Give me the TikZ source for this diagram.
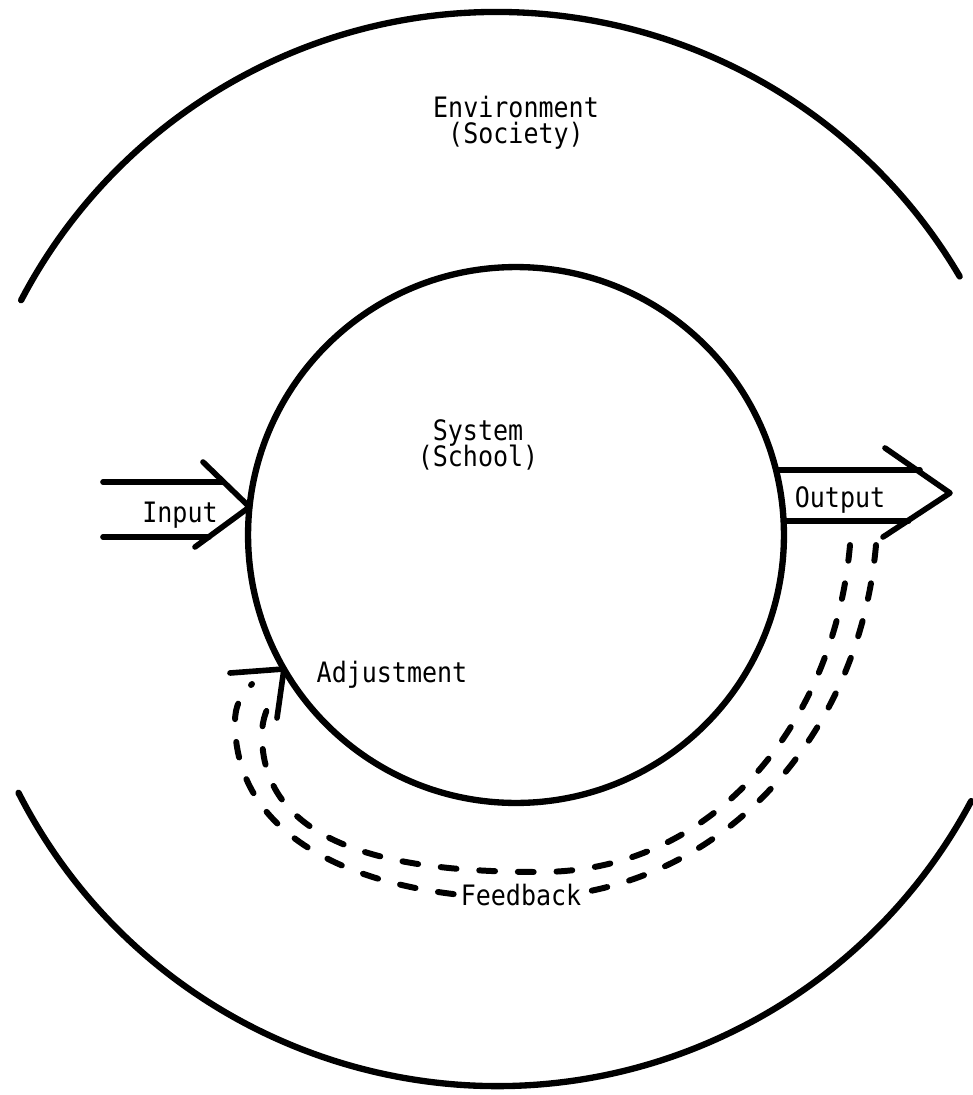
\documentclass[tikz,border=0pt]{standalone}
\usepackage{fontspec}
\setmonofont{DejaVu Sans Mono}[FakeStretch=0.89]
\usetikzlibrary{positioning}

\begin{document}
\begin{tikzpicture}[
    x=0.02cm, y=0.02cm,
    font=\ttfamily\fontsize{16}{19}\selectfont,
    ring/.style = {draw=black, line width=3.6pt},
    flow/.style = {draw=black, line width=3.2pt, line cap=round, line join=round},
    fback/.style = {draw=black, line width=3.4pt, line cap=round,
                    dash pattern=on 9pt off 13pt},
    lbl/.style = {anchor=base, inner sep=1pt},
]
\useasboundingbox (0,0) rectangle (973,-1095);

\coordinate (env) at (497,-549);
\node[ring, circle, minimum size=10.72cm, inner sep=0pt, outer sep=0pt] (school) at (516,-535) {};

\draw[ring, line cap=round] ([shift={(30.5:537)}]env) arc[start angle=30.5, end angle=152.4, radius=537];
\draw[ring, line cap=round] ([shift={(207:537)}]env) arc[start angle=207, end angle=332, radius=537];

\node[lbl] (envlbl) at (516,-117) {Environment};
\node[lbl] (soclbl) at (516,-143) {(Society)};
\node[lbl] (syslbl) at (478,-440) {System};
\node[lbl] (schlbl) at (478,-466) {(School)};
\node[lbl] (inlbl) at (180,-522) {Input};
\node[lbl] (outlbl) at (840,-507) {Output};
\node[lbl] (adjlbl) at (392,-682) {Adjustment};

% input
\coordinate (inA) at (103,-482);
\coordinate (inB) at (103,-537);
\coordinate (inU) at (203,-462);
\coordinate (inL) at (195,-547);
\draw[flow] (inA) -- ++(120,0);
\draw[flow] (inB) -- ++(106,0);
\draw[flow] (inU) -- (school.174) -- (inL);

% output
\coordinate (outT) at (950,-493);
\coordinate (outU) at (885,-448);
\coordinate (outL) at (883,-537);
\draw[flow] (school.14) -- ++(144,0);
\draw[flow] (school.3) -- ++(125,0);
\draw[flow] (outU) -- (outT) -- (outL);

% feedback
\coordinate (fbA) at (850,-545);
\coordinate (fbB) at (876,-545);
\coordinate (adjH) at (230,-673);
\coordinate (adjV) at (277,-718);
\draw[fback] (fbA) to[out=-95,in=0] (540,-872) to[out=180,in=-90] (262,-735)
    to[out=90,in=-115] (275,-692);
\draw[fback] (fbB) to[out=-95,in=0] (520,-898) to[out=180,in=-90] (235,-722)
    to[out=90,in=-135] (252,-684);
\draw[flow] (adjH) -- (school.210) -- (adjV);

\node[lbl, fill=white, inner sep=2pt] (fblbl) at (521,-905) {Feedback};

\end{tikzpicture}
\end{document}
